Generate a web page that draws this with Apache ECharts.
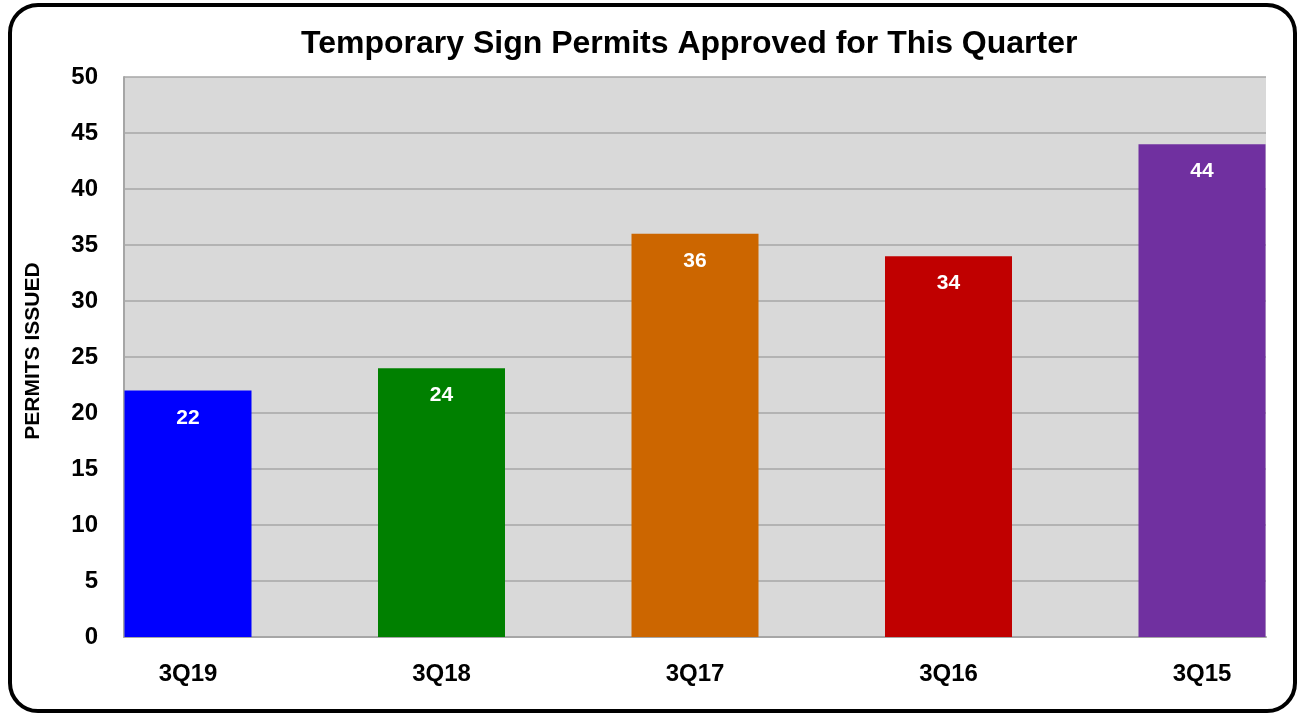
<!DOCTYPE html>
<html>
<head>
<meta charset="utf-8">
<script src="https://cdn.jsdelivr.net/npm/echarts@6/dist/echarts.min.js"></script>
<style>
html, body { margin: 0; padding: 0; background: #fff; }
#chart { width: 1299px; height: 714px; }
</style>
</head>
<body>
<div id="chart"></div>
<script>
// 数据
var quarters = ['3Q19', '3Q18', '3Q17', '3Q16', '3Q15'];
var permits = [22, 24, 36, 34, 44];
var barColors = ['#0000ff', '#008000', '#cc6600', '#c00000', '#7030a0'];

var font = 'Liberation Sans, Arial, sans-serif';

var myChart = echarts.init(document.getElementById('chart'));
var option = {
	backgroundColor: '#fff',
	animation: false,
	title: {
		text: 'Temporary Sign Permits Approved for This Quarter',
		left: 296,
		top: 23,
		textStyle: {
			fontFamily: font,
			fontSize: 32,
			fontWeight: 'bold',
			color: '#000'
		}
	},
	graphic: [{
		type: 'rect',
		shape: { x: 10, y: 5, width: 1285, height: 706, r: 28 },
		style: { fill: 'none', stroke: '#000', lineWidth: 4 },
		z: 100
	}],
	grid: [{
		// 背景和刻度
		left: 124,
		right: 33,
		top: 77,
		bottom: 77,
		show: true,
		backgroundColor: '#d9d9d9',
		borderWidth: 0
	}, {
		// 柱子: 首尾柱子贴着绘图区边缘
		left: 188,
		right: 97,
		top: 77,
		bottom: 77
	}],
	xAxis: [{
		gridIndex: 0,
		type: 'value',
		min: 0,
		max: 1,
		axisLine: { show: true, onZero: false, lineStyle: { color: '#a6a6a6', width: 2 } },
		axisTick: { show: false },
		axisLabel: { show: false },
		splitLine: { show: false }
	}, {
		gridIndex: 1,
		type: 'category',
		data: quarters,
		boundaryGap: false,
		axisLine: { show: false },
		axisTick: { show: false },
		axisLabel: {
			margin: 25,
			fontFamily: font,
			fontSize: 24,
			fontWeight: 'bold',
			color: '#000'
		}
	}],
	yAxis: [{
		gridIndex: 0,
		type: 'value',
		min: 0,
		max: 50,
		interval: 5,
		name: 'PERMITS ISSUED',
		nameLocation: 'middle',
		nameGap: 80,
		nameTextStyle: {
			fontFamily: font,
			fontSize: 21,
			fontWeight: 'bold',
			color: '#000',
			padding: [0, 0, 0, 12]
		},
		axisLine: { show: true, lineStyle: { color: '#a6a6a6', width: 2 } },
		axisTick: { show: false },
		axisLabel: {
			margin: 26,
			fontFamily: font,
			fontSize: 24,
			fontWeight: 'bold',
			color: '#000'
		},
		splitLine: { show: true, lineStyle: { color: '#a6a6a6', width: 1.5 } }
	}, {
		gridIndex: 1,
		type: 'value',
		min: 0,
		max: 50,
		show: false
	}],
	series: [{
		name: 'Permits',
		type: 'bar',
		xAxisIndex: 1,
		yAxisIndex: 1,
		barWidth: 127,
		clip: false,
		data: permits.map(function(v, i) {
			return { value: v, itemStyle: { color: barColors[i] } };
		}),
		label: {
			show: true,
			position: 'insideTop',
			distance: 17,
			fontFamily: font,
			fontSize: 21,
			fontWeight: 'bold',
			color: '#fff'
		}
	}]
};
myChart.setOption(option);
</script>
</body>
</html>
